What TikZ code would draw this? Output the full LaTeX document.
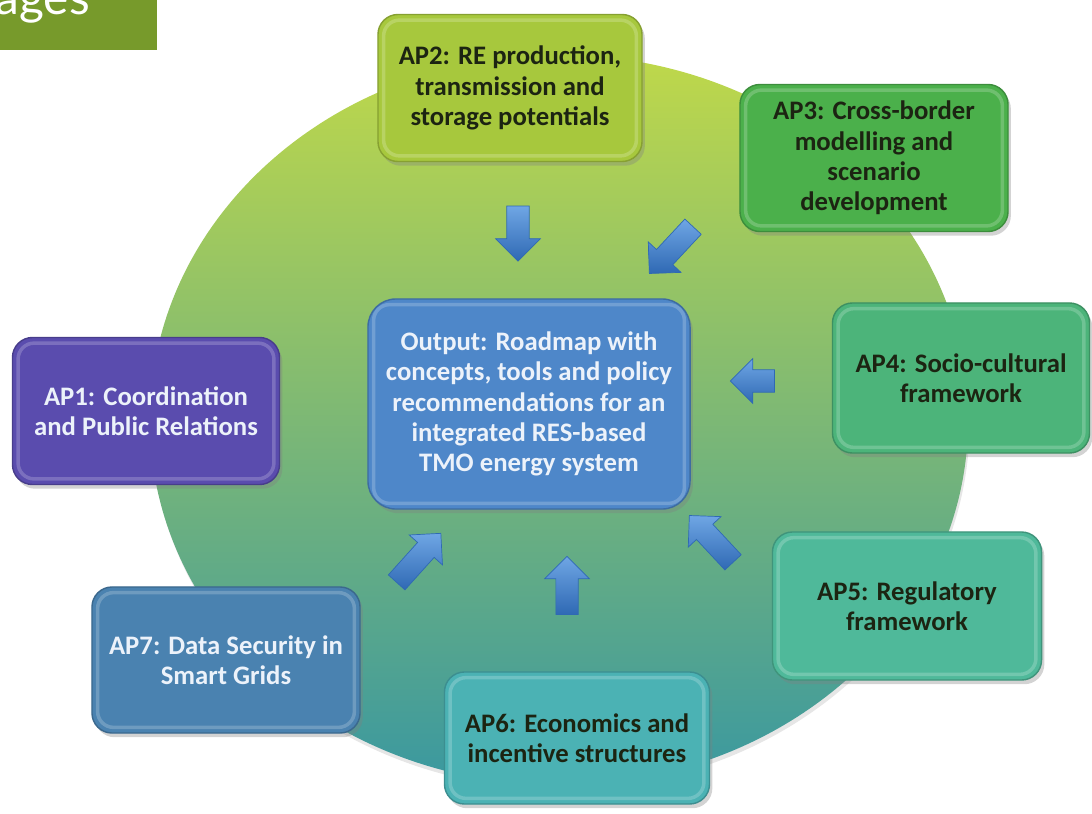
\documentclass[tikz,border=0pt]{standalone}
\usepackage{fontspec}
\setmainfont{Carlito}
\newfontfamily\agesfont{Lato}
\usetikzlibrary{shapes.arrows,shadows}

\definecolor{agesgreen}{HTML}{779A2B}
\definecolor{ringtop}{HTML}{BFD84A}
\definecolor{ringmid}{HTML}{8CC250}
\definecolor{ringbot}{HTML}{3A98A0}
\definecolor{aponefill}{HTML}{5A4CAE}
\definecolor{aptwofill}{HTML}{A7C83D}
\definecolor{apthreefill}{HTML}{4BB04B}
\definecolor{apfourfill}{HTML}{4CB47A}
\definecolor{apfivefill}{HTML}{4FB99A}
\definecolor{apsixfill}{HTML}{4BB2B4}
\definecolor{apsevenfill}{HTML}{4A82B0}
\definecolor{outfill}{HTML}{4E87C9}
\definecolor{arrowlight}{HTML}{6FA6E4}
\definecolor{arrowdark}{HTML}{2F69B4}
\definecolor{darktext}{HTML}{1C2412}
\definecolor{lighttext}{HTML}{ECF2FA}

\begin{document}
\begin{tikzpicture}
  [x=0.025cm,y=-0.025cm,
   every node/.style={font=\bfseries\fontsize{19}{21.5}\selectfont,align=center},
   apbox/.style={rounded corners=0.5cm,line width=1pt,minimum width=6.65cm,minimum height=3.7cm,
     inner sep=2pt,text=darktext,
     drop shadow={shadow xshift=2pt,shadow yshift=-3pt,opacity=0.35},
     path picture={\draw[white,opacity=0.2,line width=2.5pt,rounded corners=0.4cm]
       ([shift={(4pt,-4pt)}]path picture bounding box.north west) rectangle
       ([shift={(-4pt,4pt)}]path picture bounding box.south east);}},
   blockarrow/.style={single arrow,top color=arrowlight,bottom color=arrowdark,draw=arrowdark,
     line width=0.5pt,inner xsep=0pt,inner ysep=0.27cm,single arrow head extend=0.28cm}]
  \useasboundingbox (0,0) rectangle (1092,814);

  % corner tab
  \fill[agesgreen] (0,0) rectangle (157,50);
  \begin{scope}
    \clip (0,0) rectangle (157,50);
    \node[font=\agesfont\fontsize{34}{34}\selectfont,text=white,anchor=base east,inner sep=0pt]
      (ages) at (90,15) {ages};
  \end{scope}

  % ring
  \shade[top color=ringtop,middle color=ringmid,bottom color=ringbot,
    drop shadow={shadow xshift=1pt,shadow yshift=-3pt,opacity=0.2}]
    (559,420) ellipse [x radius=10.225cm,y radius=9.125cm];

  \node[apbox,fill=aptwofill,draw=aptwofill!80!black,minimum width=6.6cm,minimum height=3.675cm]
    (ap2) at (510,88) {AP2: RE production,\\transmission and\\storage potentials};
  \node[apbox,fill=apthreefill,draw=apthreefill!80!black,minimum width=6.7cm,minimum height=3.675cm]
    (ap3) at (874,158) {AP3: Cross-border\\modelling and\\scenario\\development};
  \node[apbox,fill=apfourfill,draw=apfourfill!80!black,minimum width=6.425cm,minimum height=3.75cm]
    (ap4) at (961,378) {AP4: Socio-cultural\\framework};
  \node[apbox,fill=apfivefill,draw=apfivefill!80!black,minimum width=6.725cm]
    (ap5) at (907,606) {AP5: Regulatory\\framework};
  \node[apbox,fill=apsixfill,draw=apsixfill!80!black,minimum width=6.625cm,minimum height=3.3cm]
    (ap6) at (577,738) {AP6: Economics and\\incentive structures};
  \node[apbox,fill=apsevenfill,draw=apsevenfill!80!black,text=lighttext,minimum width=6.7cm,minimum height=3.65cm]
    (ap7) at (226,660) {AP7: Data Security in\\Smart Grids};
  \node[apbox,fill=aponefill,draw=aponefill!80!black,text=lighttext,minimum width=6.675cm,minimum height=3.675cm]
    (ap1) at (146,411) {AP1: Coordination\\and Public Relations};

  \node[apbox,fill=outfill,draw=outfill!80!black,text=lighttext,rounded corners=0.7cm,
    minimum width=8.05cm,minimum height=5.25cm]
    (out) at (529,404) {Output: Roadmap with\\concepts, tools and policy\\recommendations for an\\integrated RES-based\\TMO energy system};

  % block arrows towards the output
  \foreach \nm/\x/\y/\ang/\len in {a2/518/228/-90/1.375cm, a3/675/246/-133/1.6cm,
      a4/758/381/180/1.1cm, a5/715/543/133/1.6cm, a6/567/591/90/1.45cm, a7/415/562/48/1.65cm}
    \node[blockarrow,rotate=\ang,minimum height=\len] (\nm) at (\x,\y) {};

\end{tikzpicture}
\end{document}
